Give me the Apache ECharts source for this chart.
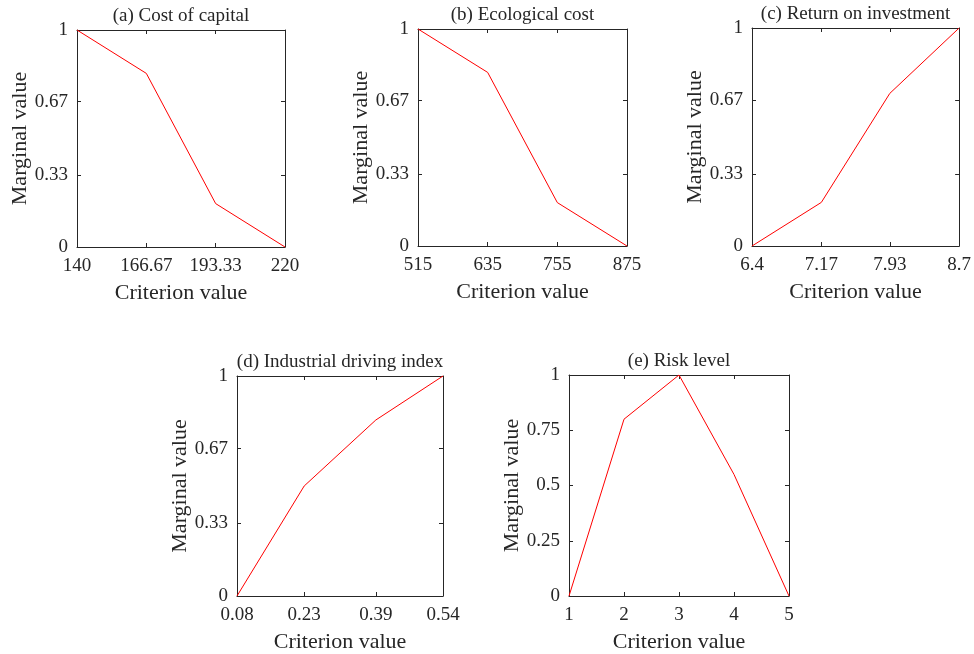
<!DOCTYPE html>
<html><head><meta charset="utf-8">
<script src="https://cdn.jsdelivr.net/npm/echarts@6/dist/echarts.min.js"></script>
<style>html,body{margin:0;padding:0;background:#fff}#c{width:974px;height:654px}</style>
</head><body><div id="c"></div>
<script>
// ---- data ----
const titles = ['(a) Cost of capital', '(b) Ecological cost', '(c) Return on investment', '(d) Industrial driving index', '(e) Risk level'];
const xA = [140, 166.67, 193.33, 220];
const yA = [1, 0.8, 0.2, 0];
const xB = [515, 635, 755, 875];
const yB = [1, 0.8, 0.2, 0];
const xC = [6.4, 7.17, 7.93, 8.7];
const yC = [0, 0.2, 0.7, 1];
const xD = [0.08, 0.23, 0.39, 0.54];
const yD = [0, 0.5, 0.8, 1];
const xE = [1, 2, 3, 4, 5];
const yE = [0, 0.8, 1, 0.55, 0];
const xTickA = ['140', '166.67', '193.33', '220'];
const xTickB = ['515', '635', '755', '875'];
const xTickC = ['6.4', '7.17', '7.93', '8.7'];
const xTickD = ['0.08', '0.23', '0.39', '0.54'];
const xTickE = ['1', '2', '3', '4', '5'];
const yTick3 = ['0', '0.33', '0.67', '1'];
const yTick4 = ['0', '0.25', '0.5', '0.75', '1'];
const xName = 'Criterion value';
const yName = 'Marginal value';

// ---- layout ----
const panels = [
  {x: xA, y: yA, xt: xTickA, yt: yTick3, grid: {left: 77, top: 30, width: 208, height: 217}},
  {x: xB, y: yB, xt: xTickB, yt: yTick3, grid: {left: 418, top: 29, width: 209, height: 217}},
  {x: xC, y: yC, xt: xTickC, yt: yTick3, grid: {left: 752, top: 28, width: 209, height: 218}},
  {x: xD, y: yD, xt: xTickD, yt: yTick3, grid: {left: 237, top: 376, width: 206, height: 220}},
  {x: xE, y: yE, xt: xTickE, yt: yTick4, grid: {left: 569, top: 375, width: 220, height: 221}}
];
const FONT = 'Liberation Serif';
const AX = '#262626';
const grids = [], xAxes = [], yAxes = [], series = [];
function fmt(labels) {
  const vals = labels.map(Number);
  return function (v) {
    let bi = 0, bd = Infinity;
    vals.forEach((t, i) => { const d = Math.abs(t - v); if (d < bd) { bd = d; bi = i; } });
    return labels[bi];
  };
}
panels.forEach((p, i) => {
  grids.push(Object.assign({containLabel: false, show: false}, p.grid));
  const xv = p.xt.map(Number), yv = p.yt.map(Number);
  const xmin = xv[0], xmax = xv[xv.length - 1];
  const common = {type: 'value', gridIndex: i, min: xmin, max: xmax,
    axisLine: {show: true, onZero: false, lineStyle: {color: AX, width: 1}},
    axisTick: {show: true, inside: true, length: 4, customValues: xv, lineStyle: {color: AX}},
    splitLine: {show: false}};
  xAxes.push(Object.assign({}, common, {position: 'bottom',
    axisLabel: {show: true, customValues: xv, formatter: fmt(p.xt), margin: 10, fontFamily: FONT, fontSize: 19, color: AX},
    name: xName, nameLocation: 'middle', nameGap: 35,
    nameTextStyle: {fontFamily: FONT, fontSize: 22, color: AX}}));
  xAxes.push(Object.assign({}, common, {position: 'top', axisLabel: {show: false},
    name: titles[i], nameLocation: 'middle', nameGap: 4,
    nameTextStyle: {fontFamily: FONT, fontSize: 19, color: AX}}));
  const ycommon = {type: 'value', gridIndex: i, min: 0, max: 1,
    axisLine: {show: true, onZero: false, lineStyle: {color: AX, width: 1}},
    axisTick: {show: true, inside: true, length: 4, customValues: yv, lineStyle: {color: AX}},
    splitLine: {show: false}};
  yAxes.push(Object.assign({}, ycommon, {position: 'left',
    axisLabel: {show: true, customValues: yv, formatter: fmt(p.yt), margin: 9, fontFamily: FONT, fontSize: 19, color: AX},
    name: yName, nameLocation: 'middle', nameGap: 42,
    nameTextStyle: {fontFamily: FONT, fontSize: 22, color: AX}}));
  yAxes.push(Object.assign({}, ycommon, {position: 'right', axisLabel: {show: false}}));
  series.push({type: 'line', xAxisIndex: 2 * i, yAxisIndex: 2 * i,
    data: p.x.map((xx, k) => [xx, p.y[k]]),
    showSymbol: false, symbol: 'none', lineStyle: {color: '#ff0000', width: 1}, clip: false, animation: false});
});
const chart = echarts.init(document.getElementById('c'), null, {renderer: 'canvas'});
chart.setOption({backgroundColor: '#ffffff', animation: false, grid: grids, xAxis: xAxes, yAxis: yAxes, series: series});
</script></body></html>
